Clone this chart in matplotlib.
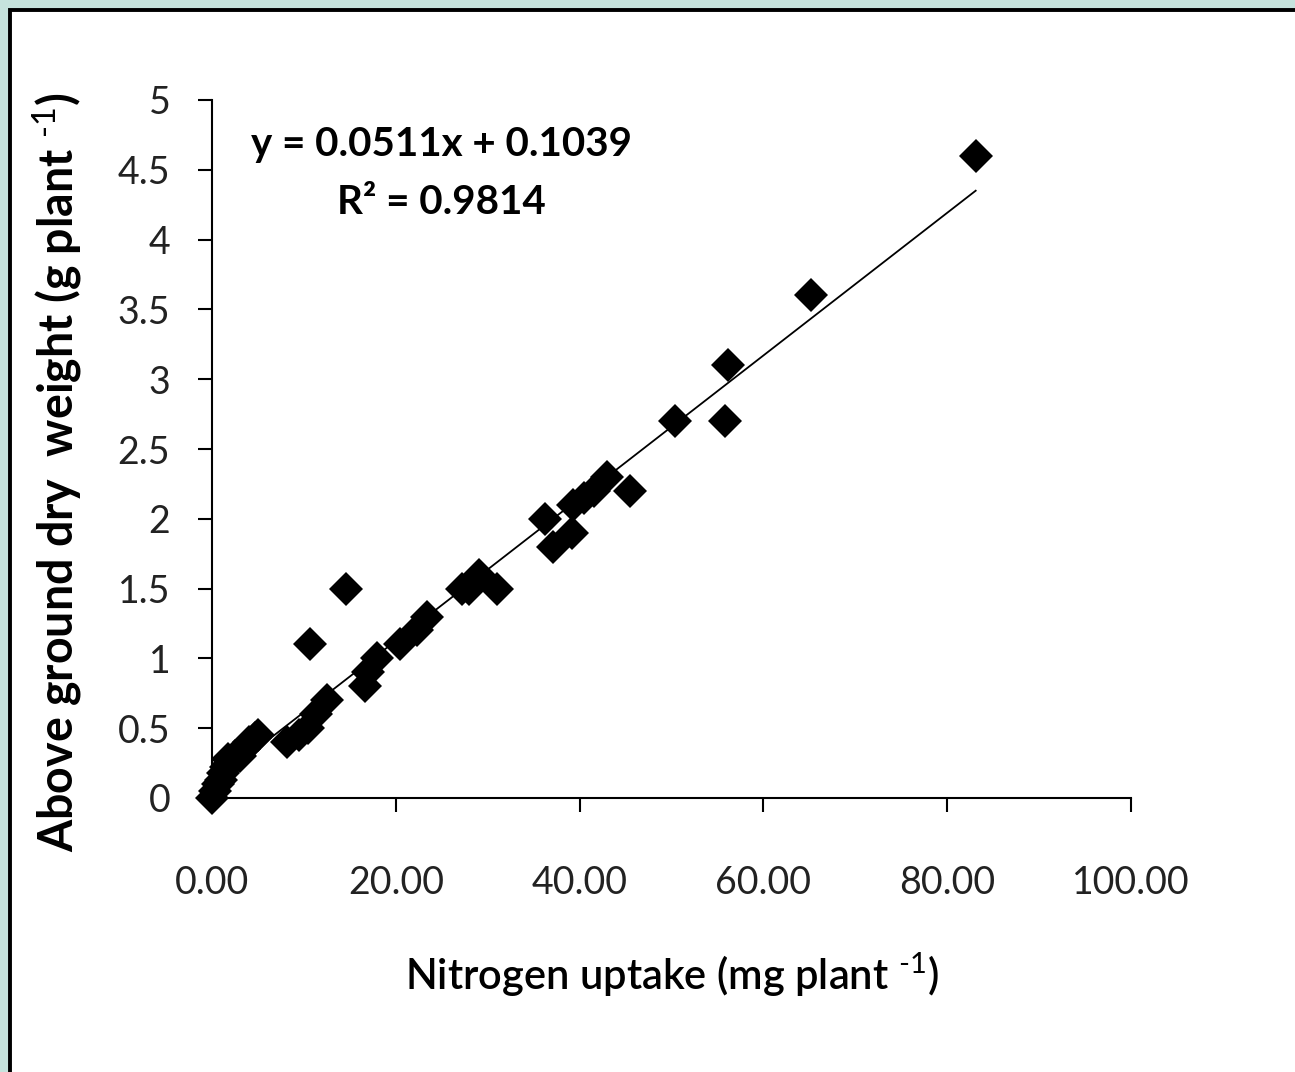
import matplotlib
matplotlib.use('Agg')
import matplotlib.pyplot as plt
import numpy as np
from matplotlib.patches import Rectangle

# data
n_uptake = [0.0, 0.3, 0.6, 1.0, 1.2, 1.7, 1.5, 2.0, 2.5, 3.0, 3.5, 4.0, 4.7, 5.0,
            8.2, 9.5, 10.5, 11.3, 12.5, 10.7, 14.6, 16.6, 17.0, 18.0, 20.5, 22.3,
            23.4, 27.2, 28.0, 29.0, 31.0, 36.2, 37.1, 39.2, 39.3, 40.5, 41.6, 43.0,
            45.5, 50.4, 55.8, 56.1, 65.2, 83.1]
dry_weight = [0.0, 0.05, 0.1, 0.13, 0.18, 0.28, 0.22, 0.25, 0.3, 0.3, 0.35, 0.4, 0.43, 0.45,
              0.4, 0.45, 0.5, 0.6, 0.7, 1.1, 1.5, 0.8, 0.9, 1.0, 1.1, 1.2,
              1.3, 1.5, 1.5, 1.6, 1.5, 2.0, 1.8, 1.9, 2.1, 2.15, 2.2, 2.3,
              2.2, 2.7, 2.7, 3.1, 3.6, 4.6]

slope = 0.0511
intercept = 0.1039
r2 = 0.9814

x_ticks = [0, 20, 40, 60, 80, 100]
y_ticks = [0, 0.5, 1, 1.5, 2, 2.5, 3, 3.5, 4, 4.5, 5]

plt.rcParams['font.family'] = ['Lato', 'DejaVu Sans']
plt.rcParams['mathtext.fontset'] = 'custom'
plt.rcParams['mathtext.rm'] = 'Lato'
plt.rcParams['mathtext.bf'] = 'Lato:bold'

fig = plt.figure(figsize=(12.95, 10.72), dpi=100)
fig.patch.set_facecolor('#c6e3dd')

# white panel with black frame (only top and left visible)
panel = Rectangle((10/1295, -0.05), 1.2, 1062/1072 + 0.05, transform=fig.transFigure,
                  facecolor='white', edgecolor='black', linewidth=2.8, zorder=-10)
fig.patches.append(panel)

ax = fig.add_axes([212/1295, 1 - 798/1072, (1131-212)/1295, (798-100)/1072])
ax.set_zorder(1)
ax.set_facecolor('none')

ax.plot(n_uptake, dry_weight, 'D', color='black', markersize=17, markeredgewidth=0,
        zorder=3, clip_on=False)

# trend line
xl = np.array([0, max(n_uptake)])
ax.plot(xl, slope*xl + intercept, color='black', linewidth=1.3, zorder=2)

ax.set_xlim(0, 100)
ax.set_ylim(0, 5)
ax.set_xticks(x_ticks)
ax.set_xticklabels([f'{v:.2f}' for v in x_ticks])
ax.set_yticks(y_ticks)
ax.set_yticklabels([f'{v:g}' for v in y_ticks])
for s in ['top', 'right']:
    ax.spines[s].set_visible(False)
for s in ['left', 'bottom']:
    ax.spines[s].set_linewidth(1.5)
ax.tick_params(axis='both', length=10, width=1.5, labelsize=27, labelcolor='#222222')
ax.tick_params(axis='x', pad=38)
ax.tick_params(axis='y', pad=20)

ax.set_xlabel('Nitrogen uptake (mg plant $^{\\text{-1}}$)', fontsize=30, fontweight='semibold', labelpad=36)
ax.set_ylabel('Above ground dry  weight (g plant $^{\\text{-1}}$)', fontsize=33.5, fontweight='bold')
ax.yaxis.set_label_coords(-0.138, 0.467)

ax.text(0.25, 0.895, f'y = {slope}x + {intercept}\nR\u00b2 = {r2}', transform=ax.transAxes,
        ha='center', va='center', fontsize=29, fontweight='bold', linespacing=1.7)

fig.savefig('out.png', dpi=100, facecolor=fig.get_facecolor())
